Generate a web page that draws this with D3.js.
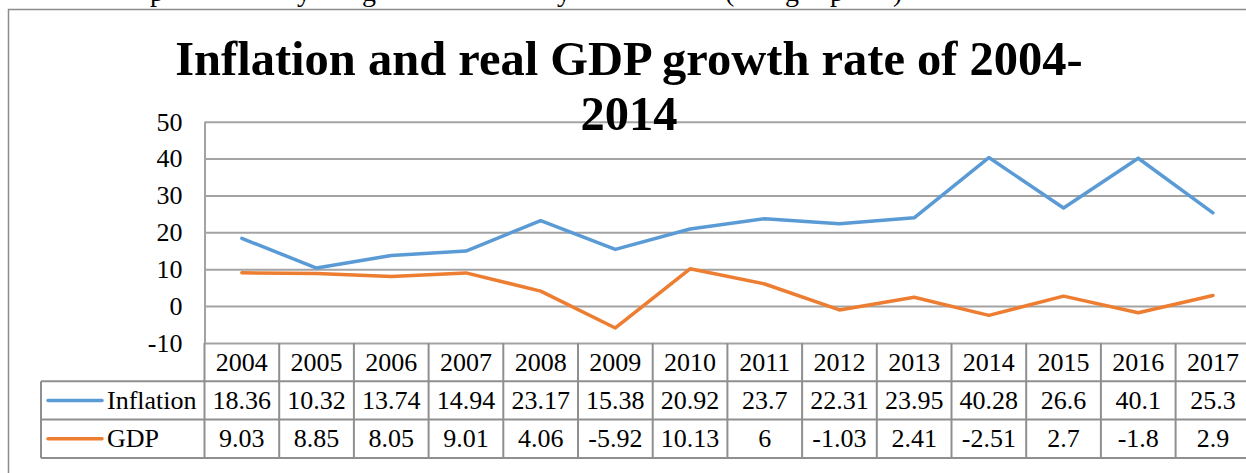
<!DOCTYPE html>
<html>
<head>
<meta charset="utf-8">
<script src="https://cdn.jsdelivr.net/npm/d3@7"></script>
<style>
  html, body { margin: 0; padding: 0; background: #fff; }
  svg { display: block; font-family: "Liberation Serif", "Times New Roman", serif; }
</style>
</head>
<body>
<svg id="chart" width="1246" height="473"></svg>
<script>
const years = ["2004","2005","2006","2007","2008","2009","2010","2011","2012","2013","2014","2015","2016","2017"];
const inflation = [18.36, 10.32, 13.74, 14.94, 23.17, 15.38, 20.92, 23.7, 22.31, 23.95, 40.28, 26.6, 40.1, 25.3];
const gdp = [9.03, 8.85, 8.05, 9.01, 4.06, -5.92, 10.13, 6, -1.03, 2.41, -2.51, 2.7, -1.8, 2.9];
const yTicks = [-10, 0, 10, 20, 30, 40, 50];
const seriesNames = ["Inflation", "GDP"];
const seriesColors = ["#5B9BD5", "#ED7D31"];
const titleLines = ["Inflation and real GDP growth rate of 2004-", "2014"];
const topFragments = [["p",150],["y",297],["g",362],["y",557],["(",725],["g",785],["p",830],[")",893]];

const svg = d3.select("#chart");
const plotLeft = 204.5, plotTop = 121.7, plotBottom = 343, colW = 74.7;
const plotRight = plotLeft + colW * years.length;
const rowH = 38.3;
const legendLeft = 41;
const gridColor = "#a3a3a3", tableColor = "#8f8f8f";
const serif = "Liberation Serif, Times New Roman, serif";

svg.append("rect").attr("width", 1246).attr("height", 473).attr("fill", "#fff");

// top cut-off text fragments (descenders of a line above the chart)
svg.append("g").selectAll("text").data(topFragments).join("text")
  .attr("x", d => d[1]).attr("y", 1)
  .attr("font-size", 28).attr("fill", "#000")
  .text(d => d[0]);

// outer chart border
svg.append("path")
  .attr("d", `M8.5,473 V9.5 H1250`)
  .attr("fill", "none").attr("stroke", "#8c8c8c").attr("stroke-width", 1.5);

const x = d3.scaleBand().domain(years).range([plotLeft, plotRight]);
const y = d3.scaleLinear().domain([-10, 50]).range([plotBottom, plotTop]);

// y axis with gridlines
const yAxis = d3.axisLeft(y).tickValues(yTicks).tickFormat(d => String(d))
  .tickSize(-(plotRight - plotLeft)).tickSizeOuter(0).tickPadding(22);
const ga = svg.append("g").attr("transform", `translate(${plotLeft},0)`).call(yAxis)
  .attr("font-family", serif);
ga.select(".domain").attr("stroke", gridColor).attr("stroke-width", 2);
ga.selectAll(".tick line").attr("stroke", gridColor).attr("stroke-width", 2);
ga.selectAll(".tick text").attr("font-size", 26).attr("fill", "#000").attr("font-family", serif);

// title
svg.append("g").selectAll("text").data(titleLines).join("text")
  .attr("x", 629).attr("y", (d, i) => 74.5 + i * 55.5)
  .attr("text-anchor", "middle")
  .attr("font-size", 48.5).attr("font-weight", "bold").attr("fill", "#000")
  .text(d => d);

// lines
const series = [inflation, gdp];
const line = d3.line().x((d, i) => x(years[i]) + x.bandwidth() / 2).y(d => y(d));
svg.append("g").selectAll("path").data(series).join("path")
  .attr("d", d => line(d))
  .attr("fill", "none")
  .attr("stroke", (d, i) => seriesColors[i])
  .attr("stroke-width", 3.5)
  .attr("stroke-linejoin", "round").attr("stroke-linecap", "round");

// data table
const tg = svg.append("g");
const tableBottom = plotBottom + rowH * 3;
[plotBottom + rowH, plotBottom + rowH * 2, tableBottom].forEach(yy => {
  tg.append("line").attr("x1", legendLeft).attr("x2", plotRight).attr("y1", yy).attr("y2", yy)
    .attr("stroke", tableColor).attr("stroke-width", 2);
});
years.forEach(yr => {
  const xx = x(yr);
  tg.append("line").attr("x1", xx).attr("x2", xx).attr("y1", plotBottom).attr("y2", tableBottom)
    .attr("stroke", tableColor).attr("stroke-width", 2);
});
tg.append("line").attr("x1", plotRight).attr("x2", plotRight).attr("y1", plotBottom).attr("y2", tableBottom)
  .attr("stroke", tableColor).attr("stroke-width", 2);
tg.append("line").attr("x1", legendLeft).attr("x2", legendLeft).attr("y1", plotBottom + rowH).attr("y2", tableBottom)
  .attr("stroke", tableColor).attr("stroke-width", 2);

tg.append("g").selectAll("text").data(years).join("text")
  .attr("x", d => x(d) + x.bandwidth() / 2).attr("y", plotBottom + rowH / 2)
  .attr("text-anchor", "middle").attr("dominant-baseline", "central")
  .attr("font-size", 26).attr("fill", "#000").text(d => d);

series.forEach((vals, si) => {
  const cy = plotBottom + rowH * (si + 1) + rowH / 2;
  tg.append("g").selectAll("text").data(vals).join("text")
    .attr("x", (d, i) => x(years[i]) + x.bandwidth() / 2).attr("y", cy)
    .attr("text-anchor", "middle").attr("dominant-baseline", "central")
    .attr("font-size", 26).attr("fill", "#000").text(d => String(d));
  tg.append("line").attr("x1", 48).attr("x2", 102).attr("y1", cy).attr("y2", cy)
    .attr("stroke", seriesColors[si]).attr("stroke-width", 3.5).attr("stroke-linecap", "round");
  tg.append("text").attr("x", 107).attr("y", cy).attr("dominant-baseline", "central")
    .attr("font-size", 26).attr("fill", "#000").text(seriesNames[si]);
});
</script>
</body>
</html>
